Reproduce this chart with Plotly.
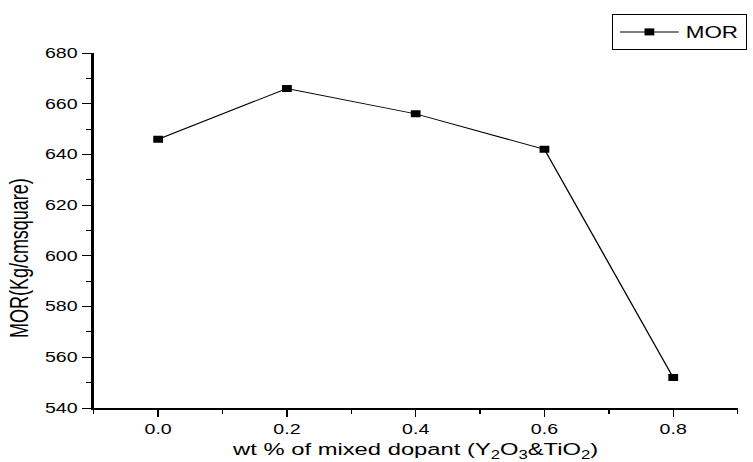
import plotly.graph_objects as go

wt_percent = [0.0, 0.2, 0.4, 0.6, 0.8]
mor_values = [646, 666, 656, 642, 552]
x_tick_vals = [0.0, 0.2, 0.4, 0.6, 0.8]
x_tick_text = ["0.0", "0.2", "0.4", "0.6", "0.8"]
y_tick_vals = [540, 560, 580, 600, 620, 640, 660, 680]

FONT = "Liberation Sans"
# The reference is horizontally stretched: lay out at a narrower width, then stretch.
STRETCH = 1.4
W0 = round(753 / STRETCH)  # 538
SX = 753 / W0

fig = go.Figure()
fig.add_trace(go.Scatter(
    x=wt_percent, y=mor_values, mode="lines+markers", name="MOR",
    line=dict(color="black", width=1),
    marker=dict(symbol="square", size=7, color="black"),
))

fig.update_layout(
    width=W0, height=462,
    paper_bgcolor="white", plot_bgcolor="white",
    margin=dict(l=67, r=11, t=53, b=54, autoexpand=False),
    font=dict(family=FONT, color="black", size=14),
    showlegend=True,
    legend=dict(
        xref="container", yref="container",
        x=437 / W0, xanchor="left", y=1 - 14 / 462, yanchor="top",
        bordercolor="black", borderwidth=1, bgcolor="white",
        font=dict(size=16, family=FONT),
        itemwidth=42,
    ),
    xaxis=dict(
        range=[-0.1, 0.9], showgrid=False, zeroline=False,
        showline=True, linecolor="black", linewidth=1.5,
        ticks="outside", ticklen=7, tickwidth=1, tickcolor="black",
        tickvals=x_tick_vals, ticktext=x_tick_text,
        minor=dict(dtick=0.1, tick0=0.1, ticks="outside", ticklen=4, tickcolor="black"),
        tickfont=dict(size=14, family=FONT),
        title=dict(text="wt % of mixed dopant (Y<sub>2</sub>O<sub>3</sub>&TiO<sub>2</sub>)",
                   font=dict(size=17, family=FONT), standoff=9),
    ),
    yaxis=dict(
        range=[540, 680], showgrid=False, zeroline=False,
        showline=True, linecolor="black", linewidth=1.5,
        ticks="outside", ticklen=7, tickwidth=1, tickcolor="black",
        tickvals=y_tick_vals,
        minor=dict(dtick=10, tick0=550, ticks="outside", ticklen=4, tickcolor="black"),
        tickfont=dict(size=14, family=FONT),
    ),
    annotations=[dict(
        text="MOR(Kg/cmsquare)", textangle=-90, showarrow=False,
        xref="paper", yref="paper", x=-0.115, y=0.4225,
        xanchor="center", yanchor="middle",
        font=dict(size=18, family=FONT, color="black"),
    )],
)

post = (
    "document.body.style.margin='0';document.body.style.overflow='hidden';"
    "var gd=document.getElementById('{plot_id}');"
    "gd.style.transformOrigin='0 0';"
    "gd.style.transform='scaleX(%.4f)';" % SX
)
fig.write_html("out.html", config={"displayModeBar": False}, post_script=post)
